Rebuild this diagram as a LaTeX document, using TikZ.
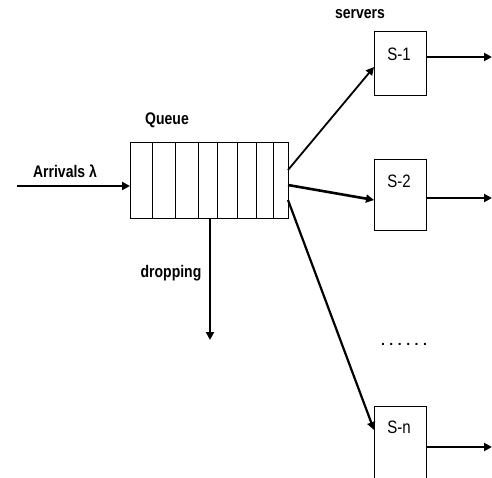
\documentclass[tikz,border=0pt]{standalone}
\usepackage{fontspec}
\setmainfont{Liberation Sans}
\usetikzlibrary{arrows.meta}
\newcommand{\tallbox}[1]{\scalebox{1}[1.2]{#1}}
\begin{document}
\begin{tikzpicture}[x=1pt,y=-1pt,
  lbl/.style={font=\bfseries\fontsize{14}{16}\selectfont, inner sep=0pt},
  srv/.style={draw, line width=1pt, minimum width=52pt, minimum height=64pt, inner sep=0pt},
  srvtxt/.style={font=\fontsize{15}{17}\selectfont, inner sep=0pt},
  flow/.style={line width=2.6pt, -{Triangle[length=8pt,width=8pt]}},
  thin/.style={line width=1pt}]
\useasboundingbox (0,0) rectangle (492,478);
% queue
\node[draw, thin, minimum width=158pt, minimum height=76pt, inner sep=0pt, anchor=north west] (q) at (130,142) {};
\foreach \x in {152,175,198,217,237,256,273} \draw[thin] (\x,142) -- (\x,218);
\node[lbl] (qlbl) at (167,120) {\tallbox{Queue}};
% arrivals
\coordinate (ain) at (17,186);
\draw[flow] (ain) -- (q.west |- ain);
\node[lbl] (albl) at (65,171) {\tallbox{Arrivals λ}};
% dropping
\coordinate (dtop) at (210,218);
\coordinate (dend) at (210,340);
\draw[flow, line width=2.2pt] (dtop) -- (dend);
\node[lbl] (dlbl) at (171,273) {\tallbox{dropping}};
% servers
\node[srv, anchor=north west] (s1) at (374,31) {};
\node[srv, anchor=north west, minimum height=71pt] (s2) at (374,159) {};
\node[srv, anchor=north west, minimum height=74pt] (sn) at (374,406) {};
\node[srvtxt] at (399,54) {\tallbox{S-1}};
\node[srvtxt] at (399,181) {\tallbox{S-2}};
\node[srvtxt] at (399,427) {\tallbox{S-n}};
\node[lbl] (slbl) at (360,14) {\tallbox{servers}};
\node[font=\bfseries\fontsize{14}{16}\selectfont, inner sep=0pt] (dots) at (404,344) {.\hspace{4.5pt}.\hspace{4.5pt}.\hspace{4.5pt}.\hspace{4.5pt}.\hspace{4.5pt}.};
% connections
\coordinate (o1) at (288,170);
\coordinate (o2) at (288,185);
\coordinate (o3) at (288,200);
\draw[flow, line width=1.8pt] (o1) -- (374,67);
\draw[flow, line width=2.6pt] (o2) -- (374,200);
\draw[flow, line width=2.2pt] (o3) -- (374,430);
% outputs
\coordinate (e1) at (492,57);
\coordinate (e2) at (492,198);
\coordinate (e3) at (492,447);
\draw[flow] (s1.east |- e1) -- (e1);
\draw[flow] (s2.east |- e2) -- (e2);
\draw[flow] (sn.east |- e3) -- (e3);
\end{tikzpicture}
\end{document}
